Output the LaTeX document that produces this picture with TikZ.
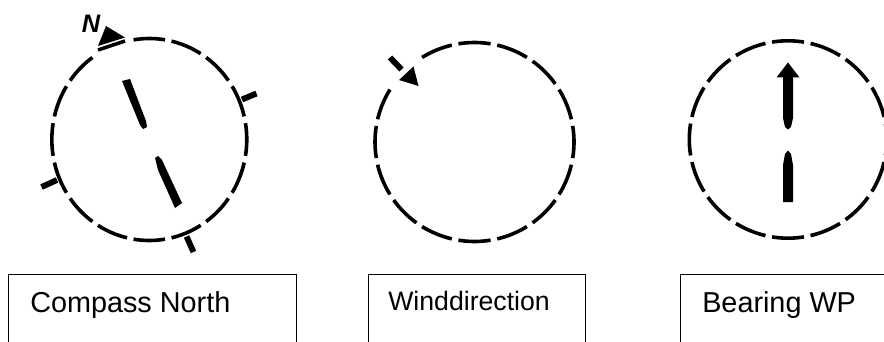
\documentclass[tikz,border=0pt]{standalone}
\usepackage{fontspec}
\setmainfont{Liberation Sans}
\newcommand{\ringdashes}[5][1]{%
  \foreach \a in {#5}{
    \draw[ringline,shift={(#2,#3)},xscale=#1] (-\a-9.3:#4) arc[start angle=-\a-9.3,end angle=-\a+9.3,radius=#4];
  }}
\tikzset{
  ringline/.style={line width=2.7pt,black},
  tickmark/.style={line width=4.4pt,black},
  solidshape/.style={fill=black,draw=none},
  boxnode/.style={draw=black,line width=1.1pt,anchor=north west,inner sep=0pt},
  lbl/.style={anchor=base west,inner sep=0pt,font=\fontsize{21.6}{24}\selectfont},
  lblsmall/.style={anchor=base west,inner sep=0pt,font=\fontsize{20}{24}\selectfont}
}
\begin{document}
\begin{tikzpicture}[x=0.75pt,y=-0.75pt]
\useasboundingbox (0,0) rectangle (884,342);
\clip (0,0) rectangle (884,342);
% ring 1
\ringdashes[0.965]{149.3}{139.5}{101}{0,22.5,45,67.5,90,135,157.5,180,202.5,225,247.5,270,292.5,315,337.5}
\draw[ringline] (98,50) -- (125,41);
\fill[solidshape] (106,26) -- (125,37.5) -- (98,46) -- cycle;
\node[inner sep=0pt,font=\fontsize{19}{20}\selectfont\bfseries\itshape] (northlabel) at (91,24) {N};
\coordinate (t1a) at (242,99.5); \coordinate (t1b) at (256.5,93.5);
\coordinate (t2a) at (57,180); \coordinate (t2b) at (41.5,187);
\coordinate (t3a) at (186.5,236.5); \coordinate (t3b) at (193.5,252);
\draw[tickmark] (t1a) -- (t1b);
\draw[tickmark] (t2a) -- (t2b);
\draw[tickmark] (t3a) -- (t3b);
\fill[solidshape] (122,81) -- (130,79) -- (146,121) -- (147,127) -- (143,129) -- (140,125) -- cycle;
\fill[solidshape] (155,158) -- (158,156) -- (162,160) -- (182,203) -- (175,208) -- (158,170) -- cycle;
% ring 2
\ringdashes{474.5}{142}{99.5}{0,22.5,45,67.5,90,112.5,157.5,180,202.5,225,247.5,270,292.5,315,337.5}
\draw[tickmark] (390,57.5) -- (401.5,69.5);
\fill[solidshape] (413.5,66.5) -- (399,80) -- (418.5,86) -- cycle;
% ring 3
\ringdashes{788}{139.5}{98.7}{0,22.5,45,67.5,90,112.5,135,157.5,180,202.5,225,247.5,270,292.5,315,337.5}
\fill[solidshape] (788,62.5) -- (799.5,77.5) -- (793,77.5) -- (793,118) -- (791,127) -- (788,129.5) -- (785,127) -- (783,118) -- (783,77.5) -- (776.5,77.5) -- cycle;
\fill[solidshape] (788,150.5) -- (791,154) -- (793,165) -- (793,202) -- (783,202) -- (783,165) -- (785,154) -- cycle;
% boxes
\node[boxnode,minimum width=216pt,minimum height=75pt] (box1) at (8,274) {};
\node[boxnode,minimum width=162.5pt,minimum height=75pt] (box2) at (368,274) {};
\node[boxnode,minimum width=165pt,minimum height=75pt] (box3) at (680,274) {};
\node[lbl] (text1) at (30,312) {Compass North};
\node[lblsmall] (text2) at (388,310) {Winddirection};
\node[lbl] (text3) at (702,312) {Bearing WP};
\end{tikzpicture}
\end{document}
